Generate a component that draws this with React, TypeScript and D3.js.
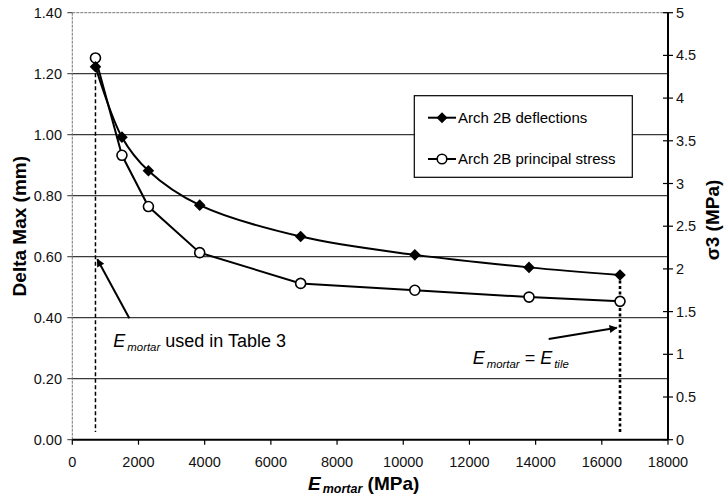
import React from "react";
import * as d3 from "d3";

const eMortar = [700, 1500, 2300, 3850, 6900, 10350, 13800, 16550];
const deflection = [1.223, 0.992, 0.882, 0.769, 0.666, 0.606, 0.565, 0.54];
const stress = [4.47, 3.33, 2.73, 2.19, 1.83, 1.75, 1.67, 1.62];
const xTicks = [0, 2000, 4000, 6000, 8000, 10000, 12000, 14000, 16000, 18000];
const leftTicks = [0, 0.2, 0.4, 0.6, 0.8, 1.0, 1.2, 1.4];
const rightTicks = [0, 0.5, 1, 1.5, 2, 2.5, 3, 3.5, 4, 4.5, 5];
const seriesNames = ["Arch 2B deflections", "Arch 2B principal stress"];
// annotation anchors in data units
const tableArrow = { from: [1723, 0.398], to: [755, 0.5915] };
const tileArrow = { from: [14394, 0.33], to: [16452, 0.367] };
const tableLabelPos = [1239, 0.324];
const tileLabelPos = [12100, 0.27];
const dropLineBottom = 0.025;

const W = 727;
const H = 497;
const FONT = "'Liberation Sans', Arial, Helvetica, sans-serif";

export default function App() {
  const x = d3.scaleLinear().domain([0, 18000]).range([72.3, 668]);
  const yL = d3.scaleLinear().domain([0, 1.4]).range([439.7, 12.7]);
  const yR = d3.scaleLinear().domain([0, 5]).range([439.7, 12.7]);

  const defl = eMortar.map((e, i) => [e, deflection[i]] as [number, number]);
  const str = eMortar.map((e, i) => [e, stress[i]] as [number, number]);

  const deflLine = d3
    .line<[number, number]>()
    .x((d) => x(d[0]))
    .y((d) => yL(d[1]))
    .curve(d3.curveCatmullRom.alpha(0.5))(defl) as string;
  const strLine = d3
    .line<[number, number]>()
    .x((d) => x(d[0]))
    .y((d) => yR(d[1]))(str) as string;

  const diamond = (s: number) => `M0,${-s}L${s},0L0,${s}L${-s},0Z`;

  const x0 = x(0);
  const x1 = x(18000);
  const yTop = yL(1.4);
  const yBot = yL(0);

  const first = defl[0];
  const last = defl[defl.length - 1];

  return (
    <svg
      width={W}
      height={H}
      style={{ position: "absolute", left: 0, top: 0, background: "#fff" }}
      fontFamily={FONT}
    >
      <defs>
        <marker
          id="ah"
          viewBox="0 0 10 10"
          refX="9"
          refY="5"
          markerWidth="10"
          markerHeight="8"
          markerUnits="userSpaceOnUse"
          orient="auto"
        >
          <path d="M0,0L10,5L0,10Z" fill="#000" />
        </marker>
      </defs>
      <rect x={0} y={0} width={W} height={H} fill="#fff" />

      {/* gridlines */}
      {leftTicks.slice(1, -1).map((t) => (
        <line key={"g" + t} x1={x0} x2={x1} y1={yL(t)} y2={yL(t)} stroke="#3a3a3a" strokeWidth={1.3} />
      ))}
      {/* top border and left axis */}
      <line x1={x0} x2={x1} y1={yTop} y2={yTop} stroke="#777" strokeWidth={1} strokeDasharray="3,1" />
      <line x1={x0} x2={x0} y1={yTop} y2={yBot} stroke="#777" strokeWidth={1} strokeDasharray="3,1" />

      {/* left ticks */}
      {leftTicks.map((t) => (
        <g key={"l" + t}>
          <line x1={x0 - 5} x2={x0} y1={yL(t)} y2={yL(t)} stroke="#333" strokeWidth={1} />
          <text x={62} y={yL(t)} dy="0.35em" textAnchor="end" fontSize={14.5} fill="#111">
            {t.toFixed(2)}
          </text>
        </g>
      ))}

      {/* bottom axis */}
      <line x1={x0} x2={x1} y1={yBot} y2={yBot} stroke="#000" strokeWidth={2} />
      {xTicks.map((t) => (
        <g key={"x" + t}>
          <line x1={x(t)} x2={x(t)} y1={yBot} y2={yBot + 5} stroke="#000" strokeWidth={1.2} />
          <text x={x(t)} y={467} textAnchor="middle" fontSize={14.5} fill="#111">
            {t}
          </text>
        </g>
      ))}

      {/* right axis */}
      <line x1={x1} x2={x1} y1={yTop} y2={yBot} stroke="#000" strokeWidth={2} />
      {rightTicks.map((t) => (
        <g key={"r" + t}>
          <line x1={x1 - 5} x2={x1 + 5} y1={yR(t)} y2={yR(t)} stroke="#000" strokeWidth={1.2} />
          <text x={676} y={yR(t)} dy="0.35em" textAnchor="start" fontSize={14.5} fill="#111">
            {String(t)}
          </text>
        </g>
      ))}

      {/* drop lines */}
      <line
        x1={x(first[0])}
        x2={x(first[0])}
        y1={yL(first[1])}
        y2={yL(dropLineBottom)}
        stroke="#000"
        strokeWidth={1.5}
        strokeDasharray="4,2.5"
      />
      <line
        x1={x(last[0])}
        x2={x(last[0])}
        y1={yL(last[1])}
        y2={yL(dropLineBottom)}
        stroke="#000"
        strokeWidth={2.6}
        strokeDasharray="3,2.5"
      />

      {/* series lines */}
      <path d={strLine} fill="none" stroke="#000" strokeWidth={2} />
      <path d={deflLine} fill="none" stroke="#000" strokeWidth={2} />

      {/* markers */}
      {str.map((d, i) => (
        <circle key={"c" + i} cx={x(d[0])} cy={yR(d[1])} r={5} fill="#fff" stroke="#000" strokeWidth={1.6} />
      ))}
      {defl.map((d, i) => (
        <path key={"d" + i} d={diamond(5.8)} transform={`translate(${x(d[0])},${yL(d[1])})`} fill="#000" />
      ))}

      {/* arrows */}
      <line
        x1={x(tableArrow.from[0])}
        y1={yL(tableArrow.from[1])}
        x2={x(tableArrow.to[0])}
        y2={yL(tableArrow.to[1])}
        stroke="#000"
        strokeWidth={2}
        markerEnd="url(#ah)"
      />
      <line
        x1={x(tileArrow.from[0])}
        y1={yL(tileArrow.from[1])}
        x2={x(tileArrow.to[0])}
        y2={yL(tileArrow.to[1])}
        stroke="#000"
        strokeWidth={2}
        markerEnd="url(#ah)"
      />

      {/* annotation texts */}
      <text x={x(tableLabelPos[0])} y={yL(tableLabelPos[1]) + 6.5} fontSize={18} fill="#000">
        <tspan fontStyle="italic">E</tspan>
        <tspan fontStyle="italic" fontSize={11.4} dx={2} dy={4}>mortar</tspan>
        <tspan dy={-4}> used in Table 3</tspan>
      </text>
      <text x={x(tileLabelPos[0])} y={yL(tileLabelPos[1]) + 6.5} fontSize={18} fill="#000">
        <tspan fontStyle="italic">E</tspan>
        <tspan fontStyle="italic" fontSize={11.4} dx={2} dy={4}>mortar</tspan>
        <tspan dy={-4}> = </tspan>
        <tspan fontStyle="italic">E</tspan>
        <tspan fontStyle="italic" fontSize={11.4} dx={2} dy={4}>tile</tspan>
      </text>

      {/* legend */}
      <g>
        <rect x={414.3} y={95.7} width={218} height={81.6} fill="#fff" stroke="#000" strokeWidth={1.2} />
        <line x1={428} x2={456} y1={117.7} y2={117.7} stroke="#000" strokeWidth={2} />
        <path d={diamond(5.5)} transform="translate(442,117.7)" fill="#000" />
        <text x={458} y={117.7} dy="0.35em" fontSize={15} fill="#000">
          {seriesNames[0]}
        </text>
        <line x1={428} x2={456} y1={159} y2={159} stroke="#000" strokeWidth={2} />
        <circle cx={442} cy={159} r={4.8} fill="#fff" stroke="#000" strokeWidth={1.6} />
        <text x={458} y={159} dy="0.35em" fontSize={15} fill="#000">
          {seriesNames[1]}
        </text>
      </g>

      {/* axis titles */}
      <text
        transform={`translate(26,${(yTop + yBot) / 2}) rotate(-90)`}
        textAnchor="middle"
        fontSize={19}
        fontWeight="bold"
        fill="#000"
      >
        Delta Max (mm)
      </text>
      <text
        transform={`translate(719,${220}) rotate(-90)`}
        textAnchor="middle"
        fontSize={19}
        fontWeight="bold"
        fill="#000"
      >
        σ3 (MPa)
      </text>
      <text x={308} y={490} fontSize={19} fontWeight="bold" fill="#000">
        <tspan fontStyle="italic">E</tspan>
        <tspan fontStyle="italic" fontSize={12.5} dx={2} dy={3}>mortar</tspan>
        <tspan dy={-3}> (MPa)</tspan>
      </text>
    </svg>
  );
}
